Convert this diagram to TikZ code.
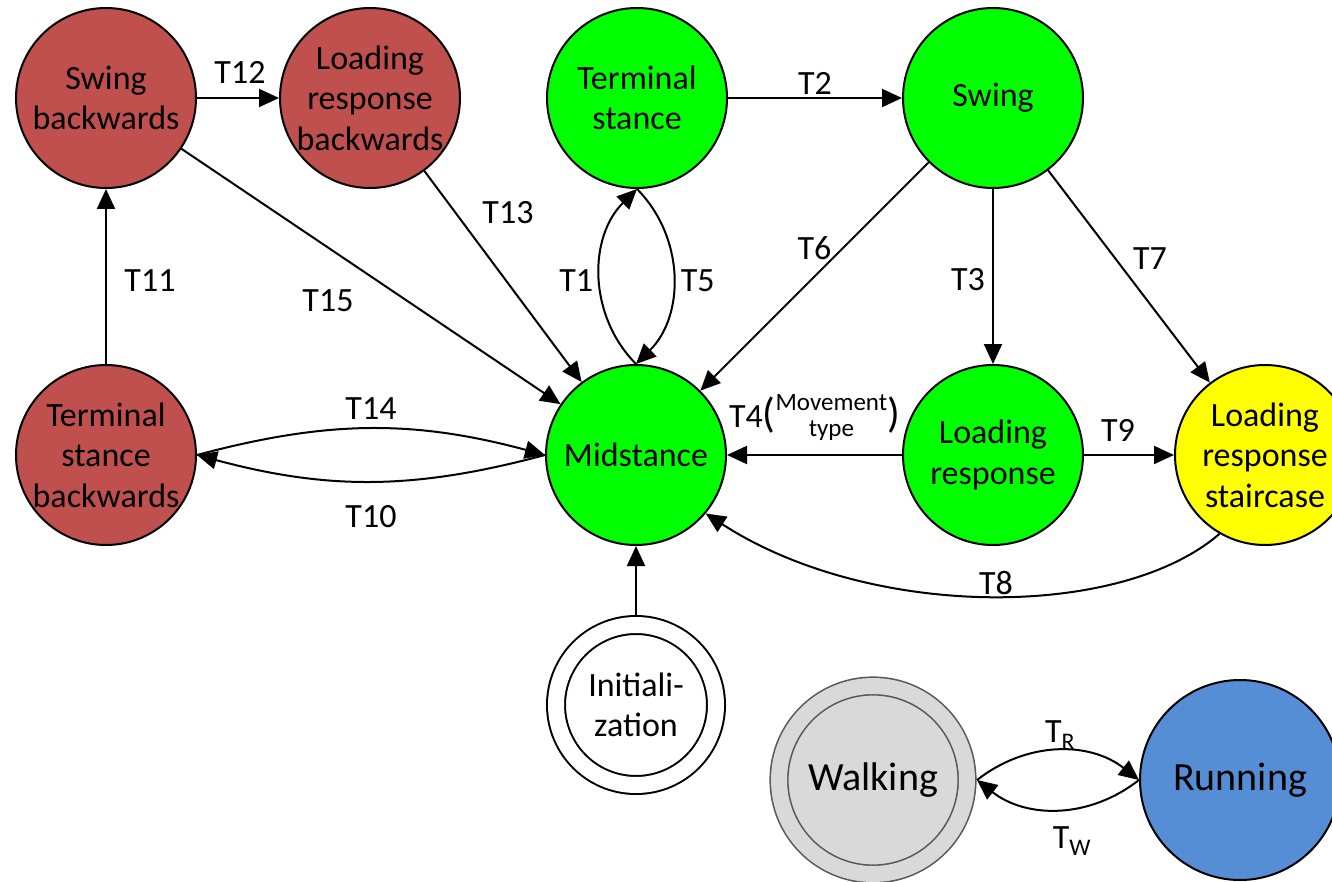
\documentclass[tikz,border=0pt]{standalone}
\usepackage{fontspec}
\setmainfont{Carlito}
\usetikzlibrary{arrows.meta}
\definecolor{brick}{HTML}{C0504D}
\definecolor{mygreen}{HTML}{00FF00}
\definecolor{myyellow}{HTML}{FFFF00}
\definecolor{runblue}{HTML}{558ED5}
\definecolor{walkfill}{HTML}{D9D9D9}
\definecolor{walkline}{HTML}{595959}
\newcommand{\nodefont}{\fontsize{34}{40.5}\selectfont}
\newcommand{\lblfont}{\fontsize{34}{40}\selectfont}
\newcommand{\bigfont}{\fontsize{40}{46}\selectfont}
\begin{document}
\begin{tikzpicture}[x=1pt,y=-1pt,
  state/.style={circle, draw=black, line width=2pt, minimum size=180pt, inner sep=0pt, align=center, font=\nodefont, text=black},
  dblstate/.style={state, double distance=16pt, outer sep=10pt},
  conn/.style={line width=2pt, -{Triangle[length=20pt,width=18pt]}},
  lbl/.style={font=\lblfont, inner sep=0pt}]
\useasboundingbox (0,0) rectangle (1332,882);

% states
\node[state, fill=brick] (SB) at (106,98) {Swing\\backwards};
\node[state, fill=brick] (LRB) at (370,98) {Loading\\response\\backwards};
\node[state, fill=mygreen] (TS) at (637,98) {Terminal\\stance};
\node[state, fill=mygreen] (SW) at (993,98) {Swing};
\node[state, fill=brick] (TSB) at (106,455) {Terminal\\stance\\backwards};
\node[state, fill=mygreen] (MS) at (636,455) {Midstance};
\node[state, fill=mygreen] (LR) at (993,455) {Loading\\response};
\node[state, fill=myyellow] (LRS) at (1265,455) {Loading\\response\\staircase};
\node[dblstate, fill=white, double=white, minimum size=160pt] (INIT) at (636,705) {Initiali-\\zation};
\node[dblstate, draw=walkline, line width=1.6pt, fill=walkfill, double=walkfill, minimum size=188pt, font=\bigfont] (WALK) at (873,780) {Walking};
\node[state, fill=runblue, minimum size=200pt, font=\bigfont] (RUN) at (1240,780) {Running};

% transitions
\draw[conn] (SB) -- node[lbl, xshift=2pt, yshift=26pt]{T12} (LRB);
\draw[conn] (TS) -- node[lbl, yshift=15pt]{T2} (SW);
\draw[conn] (TSB) -- node[lbl, xshift=44pt, yshift=-4pt]{T11} (SB);
\draw[conn] (SB) -- node[lbl, xshift=-43pt, yshift=-24pt]{T15} (MS);
\draw[conn] (LRB) -- node[lbl, xshift=5pt, yshift=64pt]{T13} (MS);
\draw[conn] (MS.north) to[bend left=45] node[lbl, xshift=-24pt, yshift=-4pt]{T1} (TS.south);
\draw[conn] (TS.south) to[bend left=45] node[lbl, xshift=25pt, yshift=-4pt]{T5} (MS.north);
\draw[conn] (SW) -- node[lbl, yshift=28pt]{T6} (MS);
\draw[conn] (SW) -- node[lbl, xshift=-25pt, yshift=-3pt]{T3} (LR);
\draw[conn] (SW) -- node[lbl, xshift=21pt, yshift=18pt]{T7} (LRS);
\draw[conn] (LR) -- node[lbl, xshift=-11pt, yshift=25pt]{T9} (LRS);
\draw[conn] (LR) -- node[lbl, anchor=base, yshift=28pt]{T4{\fontsize{42}{42}\selectfont(}\raisebox{-9pt}{\fontsize{25}{26}\selectfont\begin{tabular}[b]{@{}c@{}}Movement\\type\end{tabular}}{\fontsize{42}{42}\selectfont)}} (MS);
\draw[conn] (LRS.240) .. controls (1120,620) and (870,620) .. node[lbl, xshift=9pt, yshift=13pt]{T8} (MS.-40);
\draw[conn] (TSB.east) to[bend left=15] node[lbl, yshift=20pt]{T14} (MS.west);
\draw[conn] (MS.west) to[bend left=15] node[lbl, yshift=-35pt]{T10} (TSB.east);
\draw[conn] (INIT) -- (MS);
\draw[conn] (WALK.east) to[bend left=38] node[lbl, xshift=2pt, yshift=16pt]{T\textsubscript{R}} (RUN.west);
\draw[conn] (RUN.west) to[bend left=38] node[lbl, xshift=14pt, yshift=-32pt]{T\textsubscript{W}} (WALK.east);
\end{tikzpicture}
\end{document}
